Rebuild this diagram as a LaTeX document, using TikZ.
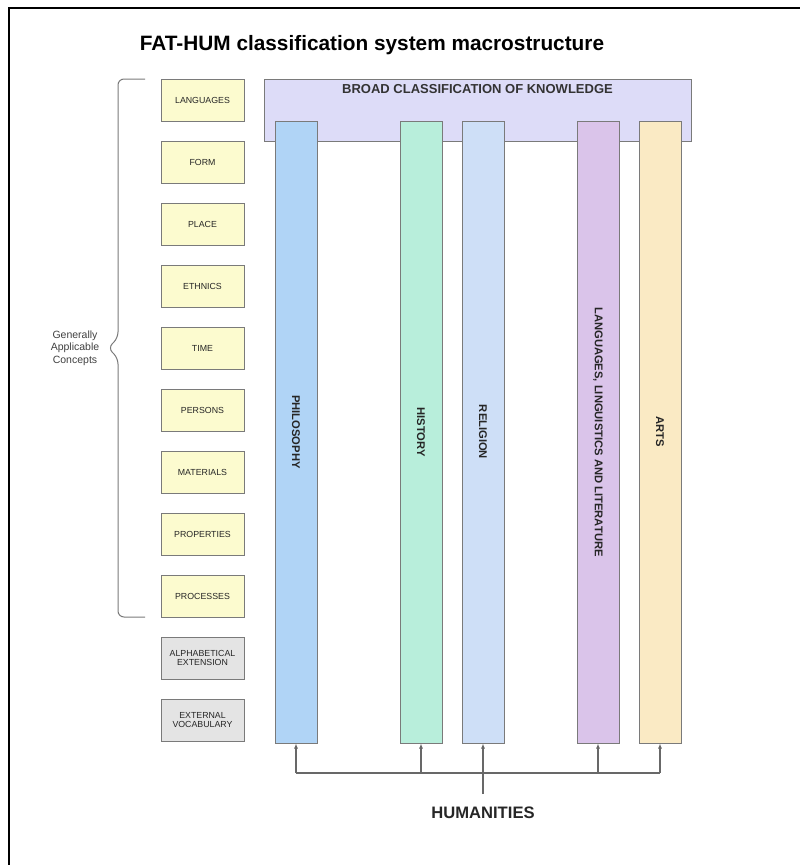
\documentclass[tikz,border=0pt]{standalone}
\usepackage{fontspec}
\setmainfont{Liberation Sans}
\usepackage{graphicx}
\usepackage{xcolor}
\usetikzlibrary{arrows.meta}

\definecolor{conceptfill}{HTML}{FCFBCF}
\definecolor{extrafill}{HTML}{E4E4E4}
\definecolor{broadfill}{HTML}{DDDCF8}
\definecolor{philfill}{HTML}{B0D4F6}
\definecolor{histfill}{HTML}{B8EEDB}
\definecolor{relfill}{HTML}{CEDFF7}
\definecolor{langfill}{HTML}{DAC4EA}
\definecolor{artsfill}{HTML}{FAEAC4}
\definecolor{edge}{HTML}{7A7A7A}

\begin{document}
\begin{tikzpicture}[x=1pt,y=-1pt,
    concept/.style={shape=rectangle,draw=edge,fill=conceptfill,line width=1pt,
        minimum width=83pt,minimum height=42pt,inner sep=1pt,align=center,
        font=\fontsize{8.8}{9.5}\selectfont,text=black!85},
    extra/.style={concept,fill=extrafill},
    column/.style={shape=rectangle,draw=edge,line width=1pt,minimum width=42pt,
        minimum height=622pt,inner sep=0pt,font=\bfseries\fontsize{11.2}{12}\selectfont,text=black!85},
    link/.style={draw=edge!85!black,line width=1.2pt}]
                    \useasboundingbox (0,0) rectangle (800,865);
                    \draw[line width=2pt] (9,870) -- (9,8) -- (805,8);

                    \node[font=\bfseries\fontsize{20.8}{24}\selectfont] (title) at (372,45) {FAT-HUM classification system macrostructure};

                    \node[concept] (languages) at (202.5,100) {LANGUAGES};
                    \node[concept] (form) at (202.5,162) {FORM};
                    \node[concept] (place) at (202.5,224) {PLACE};
                    \node[concept] (ethnics) at (202.5,286) {ETHNICS};
                    \node[concept] (time) at (202.5,348) {TIME};
                    \node[concept] (persons) at (202.5,410) {PERSONS};
                    \node[concept] (materials) at (202.5,472) {MATERIALS};
                    \node[concept] (properties) at (202.5,534) {PROPERTIES};
                    \node[concept] (processes) at (202.5,596) {PROCESSES};
                    \node[extra] (alpha) at (202.5,658) {ALPHABETICAL\\EXTENSION};
                    \node[extra] (external) at (202.5,720) {EXTERNAL\\VOCABULARY};

                    \draw[draw=edge,line width=1pt,rounded corners=6pt] (145,79) -- (118,79) -- (118,338) -- (108,348) -- (118,358) -- (118,617) -- (145,617);
                    \node[align=center,font=\fontsize{10.5}{12.5}\selectfont,text=black!75] (general) at (75,348) {Generally\\Applicable\\Concepts};

                    \node[shape=rectangle,draw=edge,fill=broadfill,line width=1pt,minimum width=427pt,minimum height=62pt,
                        label={[anchor=north,yshift=-2pt,font=\bfseries\fontsize{13}{14}\selectfont,text=black!80]north:BROAD CLASSIFICATION OF KNOWLEDGE}] (broad) at (477.5,110) {};

                    \node[column,fill=philfill] (phil) at (296,432) {\rotatebox{-90}{PHILOSOPHY}};
                    \node[column,fill=histfill] (hist) at (421,432) {\rotatebox{-90}{HISTORY}};
                    \node[column,fill=relfill] (rel) at (483,432) {\rotatebox{-90}{RELIGION}};
                    \node[column,fill=langfill] (lang) at (598,432) {\rotatebox{-90}{LANGUAGES, LINGUISTICS AND LITERATURE}};
                    \node[column,fill=artsfill] (arts) at (660,432) {\rotatebox{-90}{ARTS}};

                    \node[font=\bfseries\fontsize{16.6}{20}\selectfont,text=black!85] (hum) at (483,813) {HUMANITIES};
                    \coordinate (humtop) at (483,794);
                    \coordinate (busleft) at (296,773);
                    \coordinate (busright) at (660,773);

                    \draw[link] (busleft) -- (busright);
                    \draw[link,-{Latex[length=5pt,width=4pt]}] (humtop) -- (rel.south);
                    \draw[link,-{Latex[length=5pt,width=4pt]}] (busleft) -- (phil.south);
                    \draw[link,-{Latex[length=5pt,width=4pt]}] (hist.south |- busleft) -- (hist.south);
                    \draw[link,-{Latex[length=5pt,width=4pt]}] (lang.south |- busleft) -- (lang.south);
                    \draw[link,-{Latex[length=5pt,width=4pt]}] (busright) -- (arts.south);
                \end{tikzpicture}
\end{document}
